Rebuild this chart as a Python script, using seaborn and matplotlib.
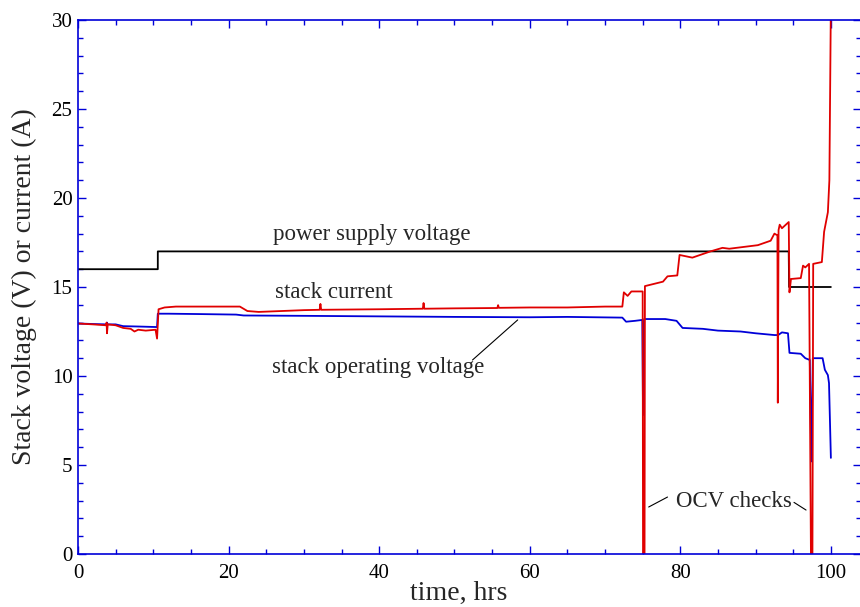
import matplotlib
matplotlib.use("Agg")
import matplotlib.pyplot as plt
import seaborn as sns
import pandas as pd
from matplotlib.ticker import MultipleLocator

# ---------------- data ----------------
ps_time = [0, 10.6, 10.6, 94.4, 94.45, 100.0]
ps_volt = [16.0, 16.0, 17.0, 17.0, 15.0, 15.0]

sv_time = [0, 2.0, 3.8, 3.85, 3.9, 5.0, 6.0, 8.0, 10.5, 10.6, 12.0, 16.0, 21.0, 22.0,
           30.0, 40.0, 50.0, 60.0, 65.0, 72.3, 72.8, 74.0, 74.95, 75.05, 75.2, 78.0,
           79.5, 80.3, 83.0, 85.0, 88.0, 90.0, 92.5, 93.0, 93.5, 94.3, 94.5, 96.0,
           96.6, 97.2, 97.4, 97.6, 98.9, 99.2, 99.6, 99.75, 100.0]
sv_volt = [12.95, 12.92, 12.9, 13.0, 12.9, 12.9, 12.8, 12.78, 12.75, 13.5, 13.5, 13.48,
           13.45, 13.4, 13.38, 13.35, 13.32, 13.3, 13.32, 13.28, 13.05, 13.1, 13.15,
           7.8, 13.2, 13.2, 13.1, 12.7, 12.65, 12.55, 12.5, 12.4, 12.3, 12.3, 12.45,
           12.4, 11.3, 11.25, 11.0, 10.9, 5.2, 11.0, 11.0, 10.35, 10.05, 9.6, 5.4]

sc_time = [0, 2.0, 3.7, 3.8, 3.85, 3.95, 5.0, 6.0, 7.0, 7.5, 8.0, 9.0, 10.3, 10.5,
           10.7, 11.5, 13.0, 16.0, 21.5, 22.5, 24.0, 27.0, 30.0, 32.1, 32.2, 32.3,
           40.0, 45.8, 45.9, 46.0, 50.0, 55.7, 55.8, 55.9, 60.0, 65.0, 70.0, 72.3,
           72.5, 73.0, 73.5, 75.0, 75.05, 75.25, 75.3, 77.7, 78.3, 79.6, 79.9, 81.6,
           84.0, 85.6, 86.5, 90.3, 92.0, 92.5, 92.9, 92.95, 93.05, 93.2, 93.5, 94.4,
           94.5, 94.7, 96.0, 96.3, 96.6, 97.1, 97.35, 97.55, 97.65, 98.8, 99.1, 99.6,
           99.8, 100.0]
sc_curr = [12.95, 12.9, 12.85, 13.0, 12.4, 12.9, 12.85, 12.7, 12.65, 12.5, 12.6, 12.55,
           12.6, 12.1, 13.75, 13.85, 13.9, 13.9, 13.9, 13.65, 13.6, 13.65, 13.7, 13.72,
           14.05, 13.72, 13.75, 13.78, 14.1, 13.78, 13.8, 13.82, 13.98, 13.83, 13.85,
           13.85, 13.9, 13.9, 14.7, 14.5, 14.75, 14.75, 0.0, 0.0, 15.05, 15.3, 15.6,
           15.65, 16.8, 16.65, 17.0, 17.2, 17.15, 17.35, 17.6, 18.0, 17.9, 8.5, 18.2,
           18.5, 18.3, 18.65, 14.7, 15.45, 15.5, 16.2, 16.1, 16.3, 0.0, 0.0, 16.3, 16.4,
           18.1, 19.2, 21.0, 31.0]

# ---------------- style ----------------
sns.set_theme(style="ticks")
plt.rcParams["font.family"] = ["Liberation Serif", "DejaVu Serif"]

BLUE = "#0000D8"
RED = "#E00000"

fig = plt.figure(figsize=(8.6, 6.07), dpi=100)
ax = fig.add_axes([78 / 860, 53 / 607, 783 / 860, 534 / 607])

ps = pd.DataFrame({"t": ps_time, "v": ps_volt})
sv = pd.DataFrame({"t": sv_time, "v": sv_volt})
sc = pd.DataFrame({"t": sc_time, "v": sc_curr})

sns.lineplot(data=ps, x="t", y="v", ax=ax, color="black", lw=1.3,
             estimator=None, sort=False)
sns.lineplot(data=sv, x="t", y="v", ax=ax, color=BLUE, lw=1.3,
             estimator=None, sort=False)
sns.lineplot(data=sc, x="t", y="v", ax=ax, color=RED, lw=1.3,
             estimator=None, sort=False)

ax.set_xlim(0, 104.0)
ax.set_ylim(0, 30)
ax.xaxis.set_major_locator(MultipleLocator(20))
ax.xaxis.set_minor_locator(MultipleLocator(5))
ax.yaxis.set_major_locator(MultipleLocator(5))
ax.yaxis.set_minor_locator(MultipleLocator(1))
ax.set_xticks([0, 20, 40, 60, 80, 100])

for s in ax.spines.values():
    s.set_color(BLUE)
    s.set_linewidth(1.2)

ax.tick_params(which="both", direction="in", top=True, right=True,
               color=BLUE, labelcolor="black", labelsize=15)
ax.tick_params(which="major", length=6, width=1.0)
ax.tick_params(which="minor", length=3.5, width=1.0)
ax.tick_params(axis="x", which="major", pad=7)
ax.tick_params(axis="y", which="major", pad=4)

ax.set_xlabel("time, hrs", fontsize=20)
ax.set_ylabel("Stack voltage (V) or current (A)", fontsize=20)
ax.xaxis.set_label_coords(0.486, -0.051)
ax.yaxis.set_label_coords(-0.052, 0.5)

# annotations
afs = 16.5
ax.text(25.9, 17.64, "power supply voltage", fontsize=afs, ha="left", va="baseline")
ax.text(26.2, 14.38, "stack current", fontsize=afs, ha="left", va="baseline")
ax.text(25.8, 10.17, "stack operating voltage", fontsize=afs, ha="left", va="baseline")
ax.text(79.4, 2.64, "OCV checks", fontsize=afs, ha="left", va="baseline")

ax.plot([52.4, 58.4], [10.9, 13.15], color="black", lw=0.8)
ax.plot([75.8, 78.3], [2.64, 3.2], color="black", lw=0.8)
ax.plot([95.1, 96.7], [2.9, 2.47], color="black", lw=0.8)

fig.savefig("out.png", dpi=100)
